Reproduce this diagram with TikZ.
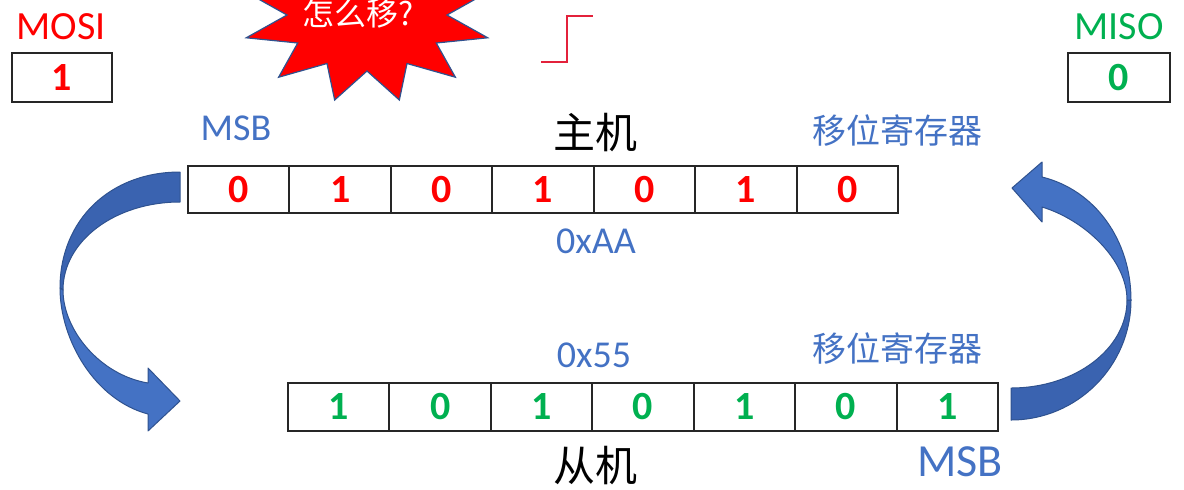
\documentclass[tikz,border=0pt]{standalone}
\usepackage{fontspec}
\setmainfont{Carlito}
\newfontfamily\cjk{Noto Sans CJK SC}
\usetikzlibrary{positioning}
\definecolor{msred}{HTML}{FF0000}
\definecolor{msgreen}{HTML}{00B050}
\definecolor{msblue}{HTML}{4472C4}
\definecolor{msdark}{HTML}{2F528F}
\definecolor{msback}{HTML}{3A63B0}
\definecolor{edgered}{HTML}{E3213B}

\begin{document}
\begin{tikzpicture}[x=0.5pt,y=-0.5pt,
    cell/.style={draw=black!85, line width=1pt, minimum width=50.7pt, minimum height=23.7pt,
      inner sep=0pt, outer sep=0pt, font=\fontsize{20}{23}\selectfont\bfseries},
    sigbox/.style={cell, minimum width=50pt, minimum height=24.5pt},
    signame/.style={inner sep=0pt, font=\fontsize{20}{24}\selectfont},
    tag/.style={inner sep=0pt, text=msblue, font=\fontsize{19}{22}\selectfont},
    hanzi/.style={inner sep=0pt, font=\cjk\fontsize{21}{24}\selectfont},
    regname/.style={inner sep=0pt, text=msblue, font=\cjk\fontsize{17}{20}\selectfont},
    bigarrow/.style={fill=#1, draw=msdark, line width=0.5pt, line join=round},
  ]
  \useasboundingbox (0,0) rectangle (1184,489);

  % burst
  \draw[fill=msred, draw=msdark, line width=0.6pt]
    plot[samples at={0,...,23}]
      ({367+(mod(\x,2)==0?125:80)*cos(195+\x*15)}, {15-(mod(\x,2)==0?88:56)*sin(195+\x*15)}) -- cycle;
  \node[inner sep=0pt, text=white, font=\cjk\fontsize{16}{18}\selectfont] (ask) at (358,13) {怎么移?};

  % clock edge
  \draw[edgered, line width=1pt] (541,62) -- (567,62) -- (567,16) -- (593,16);

  % data lines
  \node[signame, text=msred] (mosi) at (61,27) {MOSI};
  \node[sigbox, text=msred] (mosibit) at (62,77.5) {1};
  \node[signame, text=msgreen] (miso) at (1119,27) {MISO};
  \node[sigbox, text=msgreen, minimum width=51pt] (misobit) at (1119,77.5) {0};

  % master shift register
  \foreach \b [count=\i] in {0,1,0,1,0,1,0}
    \node[cell, text=msred] (m\i) at ({188+101.43*(\i-0.5)},189.5) {\b};
  \node[tag] (mmsb) at (236,128) {MSB};
  \node[hanzi] (master) at (595,133) {主机};
  \node[regname] (mreg) at (897,131) {移位寄存器};
  \node[tag] (mval) at (596,241) {0xAA};

  % slave shift register
  \foreach \b [count=\i] in {1,0,1,0,1,0,1}
    \node[cell, text=msgreen] (s\i) at ({288+101.43*(\i-0.5)},407) {\b};
  \node[tag] (sval) at (594,355) {0x55};
  \node[regname] (sreg) at (897,349) {移位寄存器};
  \node[hanzi] (slave) at (595,466) {从机};
  \node[tag, font=\fontsize{23}{26}\selectfont] (smsb) at (960,462) {MSB};

  % left curved arrow
  \draw[bigarrow=msback] (180,172) .. controls (110,172) and (60,220) .. (60,288)
    -- (63,290) .. controls (63,241) and (115,202) .. (180,202) -- cycle;
  \draw[bigarrow=msblue] (60,288) .. controls (60,340) and (95,400) .. (148,414)
    -- (148,431) -- (180,401) -- (148,368) -- (148,383)
    .. controls (100,375) and (63,330) .. (63,290) -- cycle;

  % right curved arrow
  \draw[bigarrow=msback] (1011,420) .. controls (1077,420) and (1131,366) .. (1131,300)
    -- (1127,300) .. controls (1127,349) and (1075,388) .. (1011,388) -- cycle;
  \draw[bigarrow=msblue] (1131,300) .. controls (1131,240) and (1095,190) .. (1042,177)
    -- (1042,162) -- (1012,188) -- (1042,222) -- (1042,207)
    .. controls (1085,220) and (1127,260) .. (1127,300) -- cycle;
\end{tikzpicture}
\end{document}
